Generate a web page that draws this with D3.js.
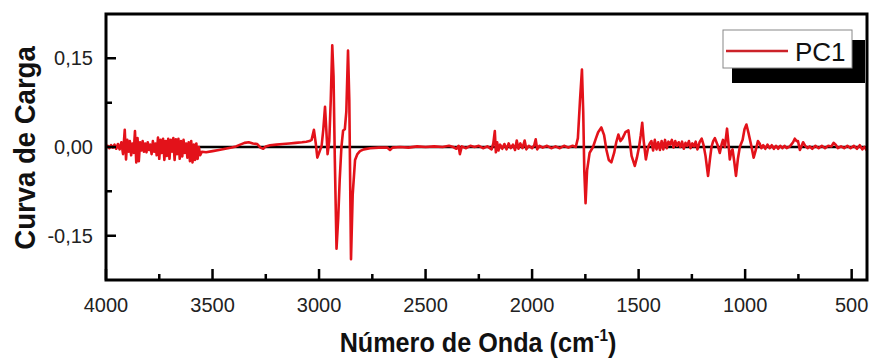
<!DOCTYPE html>
<html><head><meta charset="utf-8">
<script src="https://cdn.jsdelivr.net/npm/d3@7"></script>
<style>body{margin:0;background:#fff}svg{display:block}</style>
</head><body>
<svg id="c" width="869" height="358"></svg>
<script>
const wavenumber = [4000,3992,3984,3976,3968,3960,3952,3944,3936,3928,3920,3912,3906,3900,3894,3888,3882,3876,3870,3864,3858,3852,3846,3840,3834,3828,3822,3816,3810,3804,3798,3792,3786,3780,3774,3768,3762,3756,3750,3744,3738,3732,3726,3720,3714,3708,3702,3696,3690,3684,3678,3672,3666,3660,3654,3648,3642,3636,3630,3624,3618,3612,3606,3600,3594,3588,3582,3576,3570,3564,3558,3550,3530,3500,3470,3440,3410,3390,3370,3350,3330,3310,3290,3275,3262,3250,3230,3200,3170,3140,3110,3080,3060,3045,3035,3024,3015,3008,2998,2988,2980,2972,2966,2960,2952,2945,2938,2932,2926,2918,2910,2903,2895,2887,2879,2872,2864,2858,2850,2842,2831,2820,2808,2790,2760,2720,2680,2667,2655,2620,2580,2540,2500,2460,2420,2390,2370,2355,2345,2339,2330,2310,2290,2270,2250,2230,2210,2190,2182,2175,2170,2164,2158,2150,2140,2130,2120,2110,2100,2090,2080,2072,2064,2055,2045,2035,2027,2015,2000,1990,1983,1976,1965,1950,1930,1910,1890,1870,1850,1830,1810,1795,1785,1775,1766,1760,1755,1749,1742,1730,1714,1700,1690,1675,1662,1651,1640,1628,1615,1605,1595,1585,1575,1562,1548,1540,1533,1518,1508,1498,1490,1483,1476,1466,1455,1448,1440,1432,1424,1416,1408,1400,1392,1384,1376,1368,1360,1352,1344,1336,1328,1320,1312,1304,1296,1288,1280,1272,1264,1256,1248,1240,1232,1224,1214,1204,1195,1186,1174,1165,1158,1150,1142,1130,1119,1110,1104,1095,1085,1078,1072,1065,1059,1051,1043,1034,1025,1012,1003,994,985,971,960,950,940,932,924,915,905,895,885,875,865,855,845,835,825,815,805,790,775,767,758,752,743,736,728,718,707,697,685,670,655,640,625,610,595,585,575,565,550,535,520,505,490,475,462,450,440,430,425];
const pc1 = [0.000,0.002,-0.002,0.003,-0.001,0.004,-0.003,0.005,-0.004,0.008,-0.012,0.029,-0.021,0.012,-0.008,0.010,-0.014,0.006,-0.010,0.027,-0.026,0.015,-0.024,0.008,-0.006,0.010,-0.008,0.006,-0.009,0.008,-0.005,0.004,-0.012,0.010,-0.008,0.006,-0.014,0.016,-0.020,0.012,-0.010,0.014,-0.022,0.010,-0.015,0.014,-0.020,0.012,-0.008,0.015,-0.022,0.013,-0.012,0.014,-0.020,0.010,-0.016,0.012,-0.010,0.006,-0.018,0.008,-0.024,0.010,-0.026,0.004,-0.022,0.006,-0.020,0.000,-0.014,-0.008,-0.009,-0.007,-0.005,-0.003,-0.001,0.001,0.004,0.007,0.008,0.006,0.005,-0.001,-0.003,0.001,0.003,0.004,0.005,0.006,0.007,0.008,0.009,0.010,0.012,0.029,0.005,-0.018,-0.008,0.002,0.030,0.068,0.030,-0.012,0.010,0.080,0.172,0.120,-0.020,-0.172,-0.120,-0.055,0.000,0.028,0.030,0.060,0.163,0.080,-0.190,-0.080,-0.022,-0.012,-0.007,-0.004,-0.002,-0.001,-0.001,-0.005,-0.001,0.000,-0.001,0.001,0.000,0.001,0.000,0.002,0.000,-0.003,0.002,-0.012,0.001,-0.002,0.002,0.000,0.002,-0.002,0.001,-0.004,0.006,0.027,-0.009,0.008,-0.006,0.004,-0.003,0.005,-0.004,0.006,-0.002,0.004,-0.005,0.011,-0.003,0.006,-0.002,0.011,-0.004,0.002,-0.002,0.003,0.013,-0.004,0.002,-0.001,0.002,-0.002,0.001,-0.002,0.002,-0.001,0.002,0.000,0.015,0.080,0.131,0.060,-0.040,-0.095,-0.040,-0.010,0.000,0.015,0.025,0.033,0.020,-0.005,-0.022,-0.026,-0.010,0.008,0.021,0.010,0.015,0.025,0.028,0.005,-0.015,-0.032,-0.018,0.000,0.020,0.041,0.010,-0.021,0.000,0.006,0.010,-0.006,0.012,-0.004,0.008,-0.005,0.010,-0.004,0.012,-0.002,0.009,0.004,0.012,-0.001,0.010,0.002,0.008,0.000,0.009,-0.003,0.007,0.002,0.010,-0.002,0.006,0.001,0.009,-0.004,0.008,0.014,0.003,-0.015,-0.049,-0.020,0.000,0.010,0.015,0.004,-0.010,0.005,0.012,0.000,0.031,0.005,-0.021,-0.008,-0.004,-0.025,-0.049,-0.020,0.000,0.012,0.030,0.038,0.025,0.002,-0.018,-0.005,0.010,0.006,-0.002,0.003,-0.003,0.004,-0.002,0.003,-0.003,0.002,-0.003,0.002,-0.002,0.002,-0.002,0.001,0.008,0.014,0.010,0.010,-0.005,0.001,0.008,0.002,-0.002,0.001,-0.003,0.002,-0.002,0.002,-0.002,0.002,0.001,0.007,0.004,-0.002,0.001,-0.002,0.002,-0.002,0.002,-0.003,0.003,-0.004,0.000,-0.005,-0.003];
const xMajorTicks = [4000,3500,3000,2500,2000,1500,1000,500];
const xMinorTicks = [3750,3250,2750,2250,1750,1250,750];
const yMajorTicks = [-0.15,0,0.15];
const yTickLabels = ["-0,15","0,00","0,15"];
const yMinorTicks = [-0.075,0.075];
const seriesName = "PC1";
const xTitle = "Número de Onda (cm";
const yTitle = "Curva de Carga";

const L=106,T=14,R=867,B=280;
const svg=d3.select("#c");
const x=d3.scaleLinear().domain([4000,428]).range([L,R]);
const y=d3.scaleLinear().domain([-0.225,0.225]).range([B,T]);
const font="'Liberation Sans', Arial, sans-serif";
const red="#e3121a";

const data=wavenumber.map((w,i)=>[w,pc1[i]]);
const line=d3.line().x(d=>Math.max(L,Math.min(R,x(d[0])))).y(d=>y(d[1]));

// zero line
svg.append("line").attr("x1",L).attr("x2",R).attr("y1",y(0)).attr("y2",y(0)).attr("stroke","#000").attr("stroke-width",2.5);
// series
svg.append("path").datum(data)
  .attr("d",line)
  .attr("fill","none").attr("stroke",red).attr("stroke-width",2.6).attr("stroke-linejoin","round");

// frame
svg.append("rect").attr("x",L).attr("y",T).attr("width",R-L).attr("height",B-T)
  .attr("fill","none").attr("stroke","#000").attr("stroke-width",3);

// ticks (inward)
const tickPath=[];
xMajorTicks.forEach(d=>tickPath.push(`M${x(d)},${B}V${B-11}`));
xMinorTicks.forEach(d=>tickPath.push(`M${x(d)},${B}V${B-6}`));
yMajorTicks.forEach(d=>tickPath.push(`M${L},${y(d)}H${L+10}`));
yMinorTicks.forEach(d=>tickPath.push(`M${L},${y(d)}H${L+6}`));
svg.append("path").attr("d",tickPath.join("")).attr("fill","none").attr("stroke","#000").attr("stroke-width",2.5);

// tick labels
svg.append("g").selectAll("text").data(xMajorTicks).join("text")
  .attr("x",d=>x(d)).attr("y",B+32).attr("text-anchor","middle")
  .attr("font-family",font).attr("font-size",20).attr("fill","#222").text(d=>d);
svg.append("g").selectAll("text").data(yMajorTicks).join("text")
  .attr("x",L-13).attr("y",d=>y(d)+7).attr("text-anchor","end")
  .attr("font-family",font).attr("font-size",20).attr("fill","#222").text((d,i)=>yTickLabels[i]);

// titles
const xt=svg.append("text").attr("transform","translate(478,352) scale(0.9,1)").attr("text-anchor","middle")
  .attr("font-family",font).attr("font-weight","bold").attr("font-size",28).attr("fill","#111");
xt.append("tspan").text(xTitle);
xt.append("tspan").attr("dy",-11).attr("font-size",17).text("-1");
xt.append("tspan").attr("dy",11).text(")");
svg.append("text").attr("transform",`translate(35,148) rotate(-90) scale(0.95,1)`).attr("text-anchor","middle")
  .attr("font-family",font).attr("font-weight","bold").attr("font-size",29).attr("fill","#111").text(yTitle);

// legend
svg.append("rect").attr("x",732).attr("y",40).attr("width",133).attr("height",43).attr("fill","#000");
svg.append("rect").attr("x",723).attr("y",30).attr("width",129).attr("height",38).attr("fill","#fff").attr("stroke","#888").attr("stroke-width",1);
svg.append("line").attr("x1",726).attr("x2",788).attr("y1",51).attr("y2",51).attr("stroke","#cc2229").attr("stroke-width",2.5);
svg.append("text").attr("x",795).attr("y",61).attr("font-family",font).attr("font-size",26).attr("fill","#111").text(seriesName);
</script>
</body></html>
